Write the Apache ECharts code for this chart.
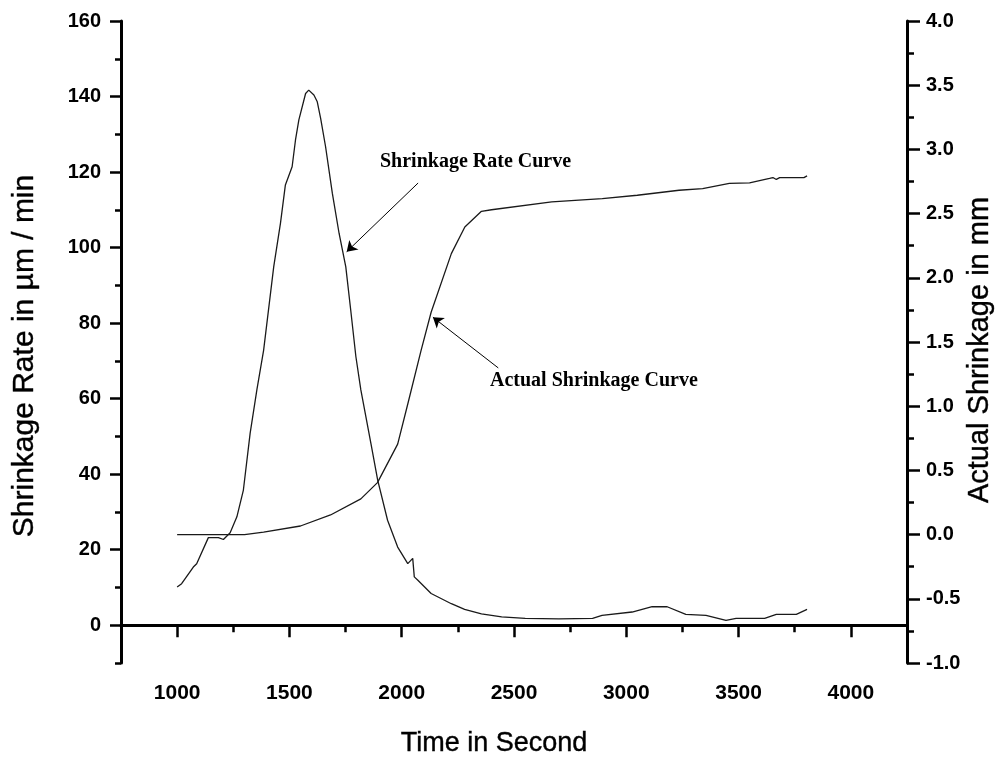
<!DOCTYPE html>
<html>
<head>
<meta charset="utf-8">
<title>Shrinkage Rate and Actual Shrinkage</title>
<script src="https://cdn.jsdelivr.net/npm/echarts@6/dist/echarts.min.js"></script>
<style>
  html, body { margin: 0; padding: 0; background: #fff; }
  #chart { width: 1001px; height: 760px; }
</style>
</head>
<body>
<div id="chart"></div>
<script>
// Shrinkage rate (µm/min) against time (s)
const rateTime = [1000, 1020, 1072, 1087, 1139, 1184, 1206, 1236, 1266, 1295, 1325, 1355, 1385, 1430, 1460, 1482, 1512, 1527, 1542, 1572, 1586, 1609, 1624, 1639, 1661, 1691, 1721, 1751, 1773, 1796, 1818, 1863, 1893, 1937, 1982, 2027, 2049, 2056, 2072, 2131, 2221, 2280, 2355, 2445, 2550, 2700, 2850, 2892, 3026, 3115, 3182, 3265, 3355, 3444, 3489, 3616, 3668, 3757, 3805];
const rateValue = [10.1, 11, 15.4, 16.3, 23.2, 23.2, 22.7, 24.5, 28.7, 35.8, 50.8, 62.3, 72.8, 94.9, 106.4, 116.6, 121.4, 128.5, 133.8, 140.8, 141.7, 140.4, 138.6, 134.2, 126.7, 114.4, 103.8, 94.9, 83.4, 71.1, 62.3, 48.1, 38.4, 27.8, 20.7, 16.3, 17.7, 12.8, 11.9, 8.4, 5.7, 4.2, 3.0, 2.2, 1.8, 1.7, 1.8, 2.6, 3.5, 4.9, 4.9, 2.9, 2.6, 1.3, 1.8, 1.8, 2.9, 2.9, 4.2];

// Actual shrinkage (mm) against time (s)
const shrinkTime = [1000, 1300, 1385, 1549, 1683, 1818, 1892, 1982, 2027, 2086, 2131, 2221, 2281, 2355, 2400, 2668, 2893, 3049, 3235, 3340, 3459, 3549, 3638, 3653, 3668, 3683, 3791, 3805];
const shrinkValue = [0.0, 0.0, 0.02, 0.067, 0.153, 0.278, 0.405, 0.705, 1.017, 1.433, 1.732, 2.188, 2.396, 2.518, 2.53, 2.591, 2.617, 2.643, 2.682, 2.695, 2.735, 2.739, 2.774, 2.781, 2.766, 2.78, 2.78, 2.794];

// Axis ticks and labels
const timeMajor = [1000, 1500, 2000, 2500, 3000, 3500, 4000];
const timeMinor = [750, 1250, 1750, 2250, 2750, 3250, 3750, 4250];
const rateMajor = [0, 20, 40, 60, 80, 100, 120, 140, 160];
const rateMinor = [-10, 10, 30, 50, 70, 90, 110, 130, 150];
const shrinkMajor = [-1, -0.5, 0, 0.5, 1, 1.5, 2, 2.5, 3, 3.5, 4];
const shrinkMinor = [-0.75, -0.25, 0.25, 0.75, 1.25, 1.75, 2.25, 2.75, 3.25, 3.75];

// Annotation arrows, in data coordinates: [tailX, tailY, headX, headY]
const rateArrow = [2073, 117.1, 1755, 98.9];
const shrinkArrow = [2430, 1.298, 2139, 1.693];

const zip = (xs, ys) => xs.map((x, i) => [x, ys[i]]);

const INK = '#000';
const LINE = '#1a1a1a';
const SANS = '"Liberation Sans", Arial, sans-serif';
const SERIF = '"Liberation Serif", "Times New Roman", serif';
const tickLabelX = { fontFamily: SANS, fontWeight: 'bold', fontSize: 21, color: INK };
const tickLabelY = { fontFamily: SANS, fontWeight: 'bold', fontSize: 20, color: INK };

function arrowLine(a) {
  return {
    silent: true,
    symbol: ['none', 'arrow'],
    symbolSize: 10,
    label: { show: false },
    emphasis: { disabled: true },
    lineStyle: { color: INK, width: 1, type: 'solid' },
    itemStyle: { color: INK },
    data: [[{ coord: [a[0], a[1]] }, { coord: [a[2], a[3]] }]]
  };
}

const chart = echarts.init(document.getElementById('chart'), null, { renderer: 'canvas' });

chart.setOption({
  animation: false,
  backgroundColor: '#fff',
  grid: { left: 121, right: 94, top: 21, bottom: 97, containLabel: false },
  xAxis: [
    {
      type: 'value', position: 'bottom', min: 750, max: 4250,
      splitLine: { show: false },
      axisLine: { show: true, lineStyle: { color: INK, width: 3 } },
      axisTick: { show: true, customValues: timeMajor, length: 12, lineStyle: { color: INK, width: 2.5 } },
      axisLabel: Object.assign({ customValues: timeMajor, margin: 20, formatter: v => String(v) }, tickLabelX)
    },
    {
      type: 'value', position: 'bottom', min: 750, max: 4250,
      splitLine: { show: false },
      axisLine: { show: false },
      axisTick: { show: true, customValues: timeMinor, length: 7, lineStyle: { color: INK, width: 2.5 } },
      axisLabel: { show: false }
    }
  ],
  yAxis: [
    {
      type: 'value', position: 'left', min: -10, max: 160,
      splitLine: { show: false },
      axisLine: { show: true, lineStyle: { color: INK, width: 3 } },
      axisTick: { show: true, customValues: rateMajor, length: 11, lineStyle: { color: INK, width: 2.5 } },
      axisLabel: Object.assign({ customValues: rateMajor, margin: 20, formatter: v => String(v) }, tickLabelY)
    },
    {
      type: 'value', position: 'left', min: -10, max: 160,
      splitLine: { show: false },
      axisLine: { show: false },
      axisTick: { show: true, customValues: rateMinor, length: 6, lineStyle: { color: INK, width: 2.5 } },
      axisLabel: { show: false }
    },
    {
      type: 'value', position: 'right', min: -1, max: 4,
      splitLine: { show: false },
      axisLine: { show: true, lineStyle: { color: INK, width: 3 } },
      axisTick: { show: true, customValues: shrinkMajor, length: 13, lineStyle: { color: INK, width: 2.5 } },
      axisLabel: Object.assign({ customValues: shrinkMajor, margin: 19, formatter: v => v.toFixed(1) }, tickLabelY)
    },
    {
      type: 'value', position: 'right', min: -1, max: 4,
      splitLine: { show: false },
      axisLine: { show: false },
      axisTick: { show: true, customValues: shrinkMinor, length: 7, lineStyle: { color: INK, width: 2.5 } },
      axisLabel: { show: false }
    }
  ],
  series: [
    {
      name: 'Shrinkage Rate', type: 'line', xAxisIndex: 0, yAxisIndex: 0,
      data: zip(rateTime, rateValue),
      showSymbol: false, smooth: false,
      lineStyle: { color: LINE, width: 1.3 },
      markLine: arrowLine(rateArrow)
    },
    {
      name: 'Actual Shrinkage', type: 'line', xAxisIndex: 0, yAxisIndex: 2,
      data: zip(shrinkTime, shrinkValue),
      showSymbol: false, smooth: false,
      lineStyle: { color: LINE, width: 1.3 },
      markLine: arrowLine(shrinkArrow)
    }
  ],
  graphic: [
    {
      type: 'text', x: 25, y: 356, rotation: Math.PI / 2,
      style: { text: 'Shrinkage Rate in µm / min', fill: INK, stroke: INK, lineWidth: 0.4, font: '30px ' + SANS, textAlign: 'center', textVerticalAlign: 'middle' }
    },
    {
      type: 'text', x: 980, y: 350, rotation: Math.PI / 2,
      style: { text: 'Actual Shrinkage in mm', fill: INK, stroke: INK, lineWidth: 0.4, font: '29px ' + SANS, textAlign: 'center', textVerticalAlign: 'middle' }
    },
    {
      type: 'text', x: 494, y: 744,
      style: { text: 'Time in Second', fill: INK, stroke: INK, lineWidth: 0.4, font: '27px ' + SANS, textAlign: 'center', textVerticalAlign: 'middle' }
    },
    {
      type: 'text', x: 380, y: 162,
      style: { text: 'Shrinkage Rate Curve', fill: INK, font: 'bold 20px ' + SERIF, textAlign: 'left', textVerticalAlign: 'middle' }
    },
    {
      type: 'text', x: 490, y: 381,
      style: { text: 'Actual Shrinkage Curve', fill: INK, font: 'bold 20px ' + SERIF, textAlign: 'left', textVerticalAlign: 'middle' }
    }
  ]
});
</script>
</body>
</html>
